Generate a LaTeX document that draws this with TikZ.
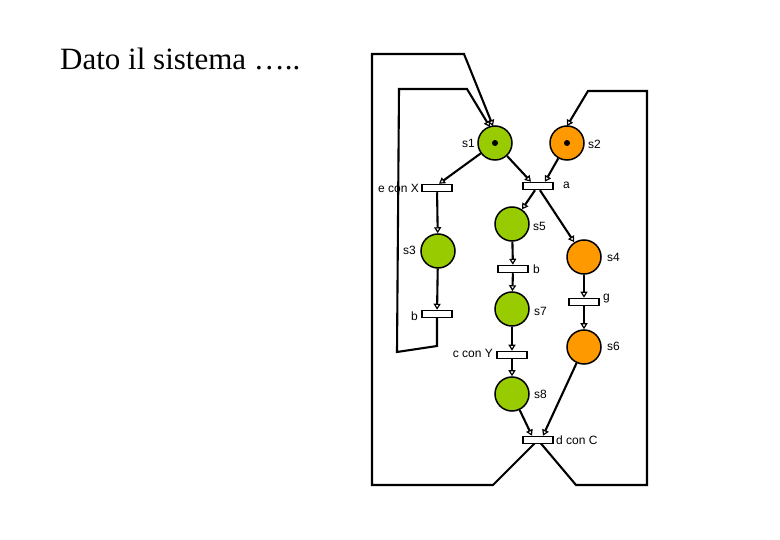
\documentclass[tikz,border=0pt]{standalone}
\usepackage{fontspec}
\setmainfont{Liberation Serif}
\newfontfamily\labfont{Liberation Sans}
\usetikzlibrary{arrows.meta}
\definecolor{pgreen}{RGB}{153,204,0}
\definecolor{porange}{RGB}{255,153,0}
\begin{document}
\begin{tikzpicture}[x=1pt,y=-1pt,
  place/.style={circle,draw=black,line width=1.5pt,minimum size=34pt,inner sep=0pt},
  gplace/.style={place,fill=pgreen},
  oplace/.style={place,fill=porange},
  trans/.style={rectangle,draw=black,fill=white,line width=1.5pt,minimum width=30pt,minimum height=7pt,inner sep=0pt},
  lab/.style={font=\labfont\fontsize{12}{14}\selectfont,inner sep=1pt},
  arc/.style={line width=2.1pt,-{Triangle[open,length=6pt,width=7pt,line width=1.2pt]}},
  tok/.style={circle,fill=black,minimum size=6pt,inner sep=0pt}]
\useasboundingbox (0,0) rectangle (780,540);
\node[anchor=base west,font=\fontsize{31}{36}\selectfont,inner sep=0pt] (title) at (60,70) {Dato il sistema …..};
% places
\node[gplace] (s1) at (495,143) {}; \node[tok] (t1) at (s1) {};
\node[oplace] (s2) at (567,143) {}; \node[tok] (t2) at (s2) {};
\node[gplace] (s5) at (512,224) {};
\node[gplace] (s3) at (438,251) {};
\node[oplace] (s4) at (584,257) {};
\node[gplace] (s7) at (512,309) {};
\node[oplace] (s6) at (584,347) {};
\node[gplace] (s8) at (512,394) {};
% place labels
\node[lab,anchor=east] (ls1) at (476,143) {s1};
\node[lab,anchor=west] (ls2) at (587,144) {s2};
\node[lab,anchor=west] (ls5) at (532,226) {s5};
\node[lab,anchor=east] (ls3) at (417,250) {s3};
\node[lab,anchor=west] (ls4) at (606,257) {s4};
\node[lab,anchor=west] (ls7) at (533,311) {s7};
\node[lab,anchor=west] (ls6) at (606,346) {s6};
\node[lab,anchor=west] (ls8) at (533,394) {s8};
% transitions
\node[trans] (eX) at (437,188) {};
\node[trans] (a) at (538,186) {};
\node[trans] (bm) at (513,269) {};
\node[trans] (bl) at (437,314) {};
\node[trans] (g) at (584,302) {};
\node[trans] (cY) at (512,355) {};
\node[trans] (dC) at (538,440) {};
% transition labels
\node[lab,anchor=east] (leX) at (420,188) {e con X};
\node[lab,anchor=west] (la) at (562,185) {a};
\node[lab,anchor=west] (lbm) at (532,269) {b};
\node[lab,anchor=east] (lbl) at (419,316) {b};
\node[lab,anchor=west] (lg) at (602,299) {g};
\node[lab,anchor=east] (lcY) at (494,353) {c con Y};
\node[lab,anchor=west] (ldC) at (555,440) {d con C};
% arcs
\draw[arc] (s1) -- ([xshift=2pt]eX.north);
\draw[arc] (s1) -- ([xshift=-7pt]a.north);
\draw[arc] (s2) -- ([xshift=7pt]a.north);
\draw[arc] ([xshift=-3pt]a.south) -- (s5);
\draw[arc] ([xshift=2pt]a.south) -- (s4);
\draw[arc] (eX) -- (s3);
\draw[arc] (s3) -- (bl);
\draw[arc] (s5) -- (bm);
\draw[arc] (bm) -- (s7);
\draw[arc] (s7) -- (cY);
\draw[arc] (cY) -- (s8);
\draw[arc] (s4) -- (g);
\draw[arc] (g) -- (s6);
\draw[arc] (s8) -- ([xshift=-6pt]dC.north);
\draw[arc] (s6) -- ([xshift=5pt]dC.north);
% loops
\coordinate (s1in) at (493,126);
\coordinate (s1in2) at (490,127);
\coordinate (s2in) at (567,126);
\draw[arc] (dC.center) -- (493,485) -- (372,485) -- (372,54) -- (464,54) -- (s1in);
\draw[arc] (dC.center) -- (576,485) -- (647,485) -- (647,91) -- (588,91) -- (s2in);
\draw[arc] (bl) -- (437,346) -- (397,352) -- (399,89) -- (467,89) -- (s1in2);
\node[trans] at (dC) {};
\end{tikzpicture}
\end{document}
